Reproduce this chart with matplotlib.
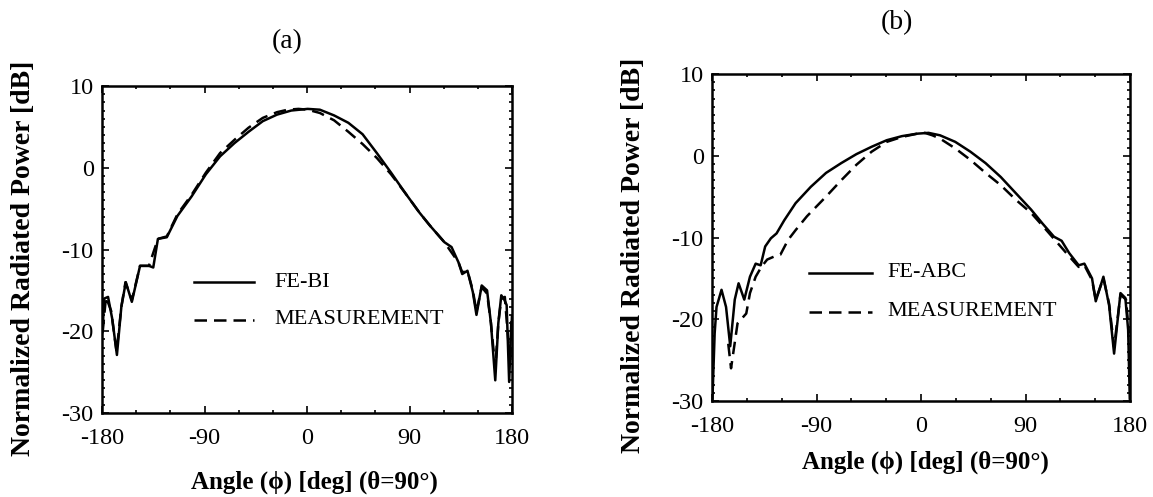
import matplotlib
matplotlib.use("Agg")
import matplotlib.pyplot as plt
from matplotlib.ticker import MultipleLocator
import numpy as np

plt.rcParams['font.family'] = ['Liberation Serif', 'DejaVu Serif']
plt.rcParams['mathtext.fontset'] = 'stix'

# ---- panel (a): FE-BI vs measurement ----
phi_a_fe = [-179.6, -178.0, -174.7, -171.0, -166.9, -163.0, -159.1, -153.8, -146.6,
            -138.8, -135.0, -130.9, -123.1, -113.8, -101.3, -88.8, -76.3, -63.8,
            -51.3, -38.8, -26.3, -13.8, 0.6, 11.3, 23.8, 36.3, 48.8, 61.3, 73.8,
            86.3, 98.8, 108.1, 120.6, 126.9, 133.1, 136.3, 140.9, 145.6, 148.8,
            153.4, 158.1, 161.5, 165.3, 168.0, 170.6, 173.5, 175.3, 177.5, 179.4]
pwr_a_fe = [-20.1, -16.0, -15.8, -18.5, -22.9, -17.0, -14.0, -16.4, -12.0,
            -12.0, -12.2, -8.7, -8.5, -5.9, -3.5, -0.8, 1.4, 3.0,
            4.4, 5.7, 6.5, 7.0, 7.2, 7.1, 6.4, 5.5, 4.1, 1.8, -0.6,
            -3.1, -5.5, -7.1, -9.1, -9.7, -11.6, -13.0, -12.6, -15.2, -18.0,
            -14.4, -15.0, -19.0, -26.0, -19.0, -15.6, -16.2, -16.8, -26.2, -18.9]

phi_a_meas = [-179.4, -176.5, -172.0, -167.2, -163.0, -159.4, -153.8, -146.6, -138.8,
              -130.9, -123.1, -113.8, -101.3, -88.8, -76.3, -63.8, -51.3, -38.8,
              -26.3, -16.9, -7.5, 0.6, 11.3, 23.8, 36.3, 48.8, 61.3, 73.8, 86.3,
              98.8, 108.1, 120.6, 133.1, 136.3, 140.9, 145.6, 148.8, 153.4, 158.1,
              161.5, 165.3, 168.0, 170.6, 173.7, 178.4, 180.0]
pwr_a_meas = [-20.1, -15.8, -17.5, -22.5, -17.0, -14.0, -16.2, -12.0, -12.0,
              -8.7, -8.4, -5.7, -3.3, -0.6, 1.8, 3.4, 4.9, 6.1,
              6.8, 7.1, 7.2, 7.1, 6.7, 5.8, 4.4, 2.9, 1.2, -0.8, -3.1,
              -5.5, -7.1, -9.1, -11.6, -12.8, -12.6, -15.0, -17.6, -14.6, -15.4,
              -19.0, -24.5, -19.0, -16.0, -15.8, -24.1, -18.0]

# ---- panel (b): FE-ABC vs measurement ----
phi_b_fe = [-179.6, -177.7, -176.1, -171.8, -167.9, -164.3, -160.4, -157.1, -152.2,
            -147.3, -142.4, -138.1, -134.2, -129.3, -124.4, -117.8, -108.0, -94.9,
            -81.8, -68.7, -55.6, -42.5, -29.5, -16.4, -3.3, 6.5, 16.4, 29.5, 42.5,
            55.6, 68.7, 81.8, 94.9, 104.7, 114.5, 121.1, 127.6, 135.8, 140.7,
            147.3, 150.5, 157.1, 162.0, 166.3, 171.8, 176.0, 178.4, 179.8]
pwr_b_fe = [-29.7, -21.7, -18.5, -16.4, -18.5, -23.3, -17.6, -15.6, -17.6,
            -14.8, -13.2, -13.4, -11.1, -10.1, -9.5, -7.9, -5.8, -3.8,
            -2.1, -0.9, 0.2, 1.1, 1.9, 2.4, 2.7, 2.8, 2.5, 1.7, 0.5,
            -0.9, -2.6, -4.6, -6.6, -8.3, -9.9, -10.4, -11.9, -13.4, -13.2,
            -15.0, -17.8, -14.8, -18.3, -24.2, -16.8, -17.4, -21.3, -29.7]

phi_b_meas = [-166.0, -163.6, -158.0, -150.5, -147.3, -142.4, -137.5, -132.5, -126.0,
              -121.1, -114.5, -108.0, -98.2, -81.8, -68.7, -55.6, -42.5, -29.5,
              -16.4, -3.3, 3.3, 9.8, 16.4, 29.5, 42.5, 55.6, 68.7, 81.8, 94.9,
              108.0, 117.8, 127.6, 135.8, 140.7, 147.3, 150.5, 157.1, 162.0, 166.3,
              171.8, 176.6, 179.0]
pwr_b_meas = [-23.0, -26.0, -20.5, -19.3, -16.8, -14.8, -13.6, -12.7, -12.3,
              -12.1, -10.3, -9.1, -7.4, -5.0, -3.0, -1.1, 0.5, 1.7,
              2.3, 2.7, 2.8, 2.5, 2.1, 0.9, -0.5, -2.1, -3.6, -5.4, -7.0,
              -9.1, -10.7, -12.3, -13.6, -13.4, -15.2, -17.6, -15.0, -18.1, -23.4,
              -17.0, -17.6, -21.7]

x_ticks = [-180, -90, 0, 90, 180]
y_ticks = [-30, -20, -10, 0, 10]

W, H = 1153, 497
fig = plt.figure(figsize=(W / 100, H / 100), dpi=100)


def px_axes(x0, y0, x1, y1):
    return fig.add_axes([x0 / W, 1 - y1 / H, (x1 - x0) / W, (y1 - y0) / H])


DASH = (5.0, 2.8)
LW = 1.8
TICK_FS = 17.5


def style_axes(ax, tick_pad_x):
    ax.set_xlim(-180, 180)
    ax.set_ylim(-30, 10)
    ax.set_xticks(x_ticks)
    ax.set_yticks(y_ticks)
    ax.set_xticklabels([str(v) for v in x_ticks])
    ax.set_yticklabels([str(v) for v in y_ticks])
    ax.xaxis.set_minor_locator(MultipleLocator(30))
    ax.yaxis.set_minor_locator(MultipleLocator(1))
    ax.tick_params(which='both', direction='in', top=True, right=True,
                   width=1.2, labelsize=TICK_FS)
    ax.tick_params(which='major', length=5)
    ax.tick_params(which='minor', length=2.5)
    ax.tick_params(axis='x', which='major', pad=tick_pad_x)
    ax.tick_params(axis='y', which='major', pad=6)
    for sp in ax.spines.values():
        sp.set_linewidth(1.8)


def legend_lines(ax, x0, x1, xt, y1, y2, lab1):
    ax.plot([x0, x1], [y1, y1], color='black', lw=LW)
    ax.plot([x0, x1], [y2, y2], color='black', lw=LW, dashes=DASH)
    ax.text(xt, y1, lab1, fontsize=16, va='center', ha='left')
    ax.text(xt, y2, 'MEASUREMENT', fontsize=16, va='center', ha='left')


# panel (a)
ax1 = px_axes(102, 86, 512, 413)
ax1.plot(phi_a_fe, pwr_a_fe, color='black', lw=LW)
ax1.plot(phi_a_meas, pwr_a_meas, color='black', lw=LW, dashes=DASH)
style_axes(ax1, 11)
legend_lines(ax1, -99, -46.5, -29, -14.0, -18.6, 'FE-BI')

# panel (b)
ax2 = px_axes(712, 74, 1130, 401)
ax2.plot(phi_b_fe, pwr_b_fe, color='black', lw=LW)
ax2.plot(phi_b_meas, pwr_b_meas, color='black', lw=LW, dashes=DASH)
style_axes(ax2, 11)
legend_lines(ax2, -96.5, -42.2, -29.3, -14.3, -19.1, 'FE-ABC')

# titles and axis labels
ylab = 'Normalized Radiated Power [dB]'
xlab = 'Angle (\u03d5) [deg] (\u03b8=90\u00b0)'
fig.text(287 / W, 1 - 42 / H, '(a)', fontsize=20, ha='center', va='center')
fig.text(897 / W, 1 - 23 / H, '(b)', fontsize=20, ha='center', va='center')
fig.text(24 / W, 1 - 258 / H, ylab, rotation=90, fontsize=20, fontweight='bold',
         ha='center', va='center')
fig.text(634 / W, 1 - 255 / H, ylab, rotation=90, fontsize=20, fontweight='bold',
         ha='center', va='center')
fig.text(314 / W, 1 - 482 / H, xlab, fontsize=18, fontweight='bold',
         ha='center', va='center')
fig.text(925 / W, 1 - 462 / H, xlab, fontsize=18, fontweight='bold',
         ha='center', va='center')

fig.savefig('out.png', dpi=100)
